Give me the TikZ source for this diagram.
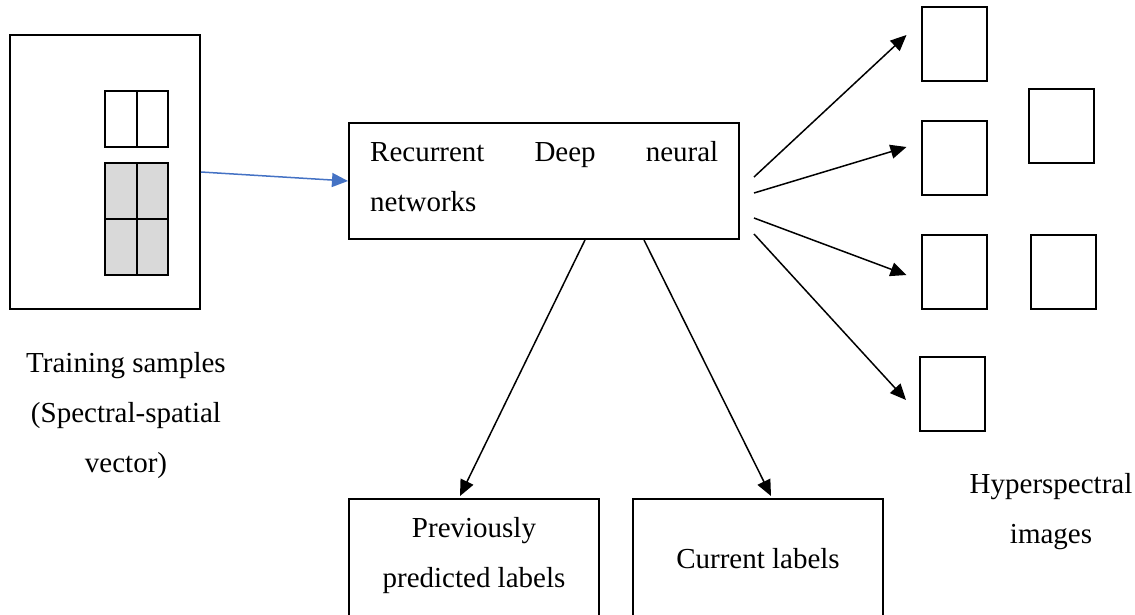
\documentclass[tikz,border=0pt]{standalone}
\usepackage{fontspec}
\setmainfont{Liberation Serif}
\usetikzlibrary{arrows.meta,calc}
\definecolor{linkblue}{RGB}{68,114,196}
\definecolor{cellgray}{RGB}{217,217,217}
\newcommand{\txt}{\fontsize{29}{50}\selectfont}
\begin{document}
\begin{tikzpicture}[x=1pt,y=-1pt,
  frame/.style={draw,line width=2pt,inner sep=0pt},
  tile/.style={draw,line width=2pt,inner sep=0pt,minimum width=65pt,minimum height=74pt},
  grid/.style={line width=2pt},
  label/.style={inner sep=0pt,anchor=base,font=\txt},
  link/.style={line width=1.5pt,-{Triangle[length=16pt,width=14pt]}},
]
\clip (0,0) rectangle (1135,614);

% training sample with its pixel and patch
\node[frame,minimum width=190pt,minimum height=274pt] (sample) at (105,172) {};
\node[frame,minimum width=63pt,minimum height=56pt] (pixel) at (136.5,119) {};
\draw[grid] (pixel.north) -- (pixel.south);
\node[frame,fill=cellgray,minimum width=63pt,minimum height=112pt] (patch) at (136.5,219) {};
\draw[grid] (patch.north) -- (patch.south);
\draw[grid] (patch.west) -- (patch.east);
\node[label] (samplelabel) at (126,372)
  {\parbox[t]{260pt}{\centering Training samples\\(Spectral-spatial\\vector)}};

% network
\node[frame,minimum width=390pt,minimum height=116pt] (rnn) at (544,181) {};
\node[label,anchor=base west] (rnntext) at (370,161)
  {\parbox[t]{348pt}{Recurrent\hfill Deep\hfill neural\\networks}};

% hyperspectral image tiles
\node[tile] (s1) at (954,44) {};
\node[tile] (s2) at (954,158) {};
\node[tile] (s3) at (954,272) {};
\node[tile] (s4) at (952.5,394) {};
\node[tile] (s5) at (1061.5,126) {};
\node[tile] (s6) at (1063.5,272) {};
\node[label] (hsilabel) at (1051,493)
  {\parbox[t]{200pt}{\centering Hyperspectral\\images}};

% label boxes
\node[frame,minimum width=250pt,minimum height=200pt] (prev) at (474,599) {};
\node[label] (prevtext) at (474,537)
  {\parbox[t]{250pt}{\centering Previously\\predicted labels}};
\node[frame,minimum width=250pt,minimum height=200pt] (cur) at (758,599) {};
\node[label] (curtext) at (758,568) {Current labels};

% connectors
\draw[link,linkblue] (sample.east) -- (rnn.west);
\draw[link] ($(rnn.north east)+(14,55)$) -- ($(s1.west)+(-14,-9)$);
\draw[link] ($(rnn.north east)+(14,71)$) -- ($(s2.west)+(-14,-11)$);
\draw[link] ($(rnn.north east)+(14,96)$) -- ($(s3.west)+(-14,3)$);
\draw[link] ($(rnn.north east)+(14,112)$) -- ($(s4.west)+(-13,6)$);
\draw[link] ($(rnn.south west)+(237,0)$) -- ($(prev.north west)+(112,-2)$);
\draw[link] ($(rnn.south west)+(296,0)$) -- ($(cur.north west)+(139,-2)$);
\end{tikzpicture}
\end{document}
